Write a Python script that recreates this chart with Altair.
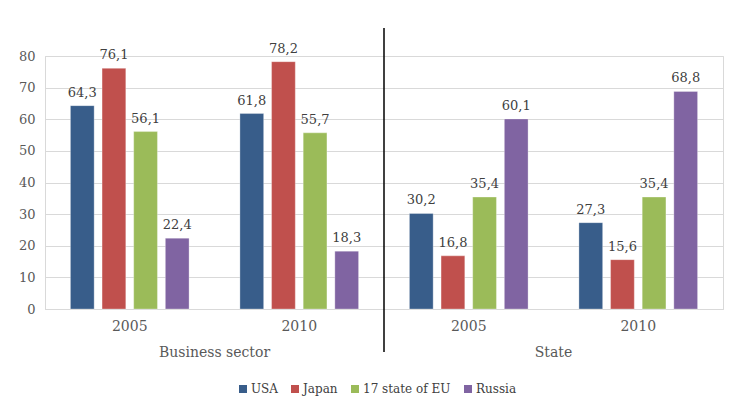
import altair as alt
import pandas as pd

categories = ["Business sector 2005", "Business sector 2010", "State 2005", "State 2010"]
groups = ["Business sector", "State"]
series = ["USA", "Japan", "17 state of EU", "Russia"]
usa = [64.3, 61.8, 30.2, 27.3]
japan = [76.1, 78.2, 16.8, 15.6]
eu = [56.1, 55.7, 35.4, 35.4]
russia = [22.4, 18.3, 60.1, 68.8]
colors = ["#385D8A", "#C0504D", "#9BBB59", "#8064A2"]

rows = []
for s, vals in zip(series, [usa, japan, eu, russia]):
    for c, v in zip(categories, vals):
        rows.append({"cat": c, "series": s, "value": v})
df = pd.DataFrame(rows)

FONT = "DejaVu Serif"

x_enc = alt.X(
    "cat:N", sort=categories,
    scale=alt.Scale(domain=categories, paddingInner=0.3, paddingOuter=0.15),
    axis=alt.Axis(title=None, labelExpr="slice(datum.label, -4)", labelAngle=0,
                  ticks=False, domainColor="#D9D9D9", labelFont=FONT,
                  labelFontSize=14, labelColor="#595959", labelPadding=10),
)
xoff_enc = alt.XOffset("series:N", sort=series,
                       scale=alt.Scale(domain=series, paddingInner=0.25, paddingOuter=0))
y_enc = alt.Y(
    "value:Q", scale=alt.Scale(domain=[0, 80]),
    axis=alt.Axis(title=None, values=list(range(0, 81, 10)), ticks=False,
                  domainColor="#D9D9D9", gridColor="#D9D9D9", labelFont=FONT,
                  labelFontSize=13, labelColor="#595959", labelPadding=10),
)

bars = alt.Chart(df).mark_bar(stroke="white", strokeWidth=0.5, strokeOpacity=0.6).encode(
    x=x_enc, xOffset=xoff_enc, y=y_enc,
    color=alt.Color("series:N", sort=series,
                    scale=alt.Scale(domain=series, range=colors),
                    legend=alt.Legend(title=None, orient="none", direction="horizontal",
                                      legendX=192, legendY=327, symbolType="square",
                                      symbolSize=64, symbolStrokeWidth=0,
                                      labelFont=FONT, labelFontSize=12,
                                      labelColor="#404040", columnPadding=11,
                                      labelOffset=2, padding=0)),
)

labels = alt.Chart(df).transform_calculate(
    label="replace(format(datum.value, '.1f'), '.', ',')"
).mark_text(baseline="bottom", dy=-6, font=FONT, fontSize=13, color="#404040").encode(
    x=x_enc, xOffset=xoff_enc, y=y_enc, text="label:N",
)

rule_df = pd.DataFrame({"group": ["State"]})
sep = alt.Chart(rule_df).mark_rule(color="black", strokeWidth=1.5).encode(
    x=alt.X("group:N", bandPosition=0,
            scale=alt.Scale(type="band", domain=groups, paddingInner=0, paddingOuter=0),
            axis=alt.Axis(orient="bottom", offset=28, title=None, domain=False,
                          ticks=False, labelAngle=0, labelFont=FONT, labelFontSize=14,
                          labelColor="#595959", labelPadding=8, grid=False)),
    y=alt.value(-28), y2=alt.value(296),
)

chart = alt.layer(alt.layer(bars, labels), sep).resolve_scale(x="independent").resolve_axis(
    x="independent"
).properties(
    width=678, height=253,
    autosize=alt.AutoSizeParams(type="none"),
    padding={"left": 37, "top": 48, "right": 1, "bottom": 90},
).configure_view(stroke="#D9D9D9")

chart.save("out.html", embed_options={"renderer": "svg", "actions": False})
